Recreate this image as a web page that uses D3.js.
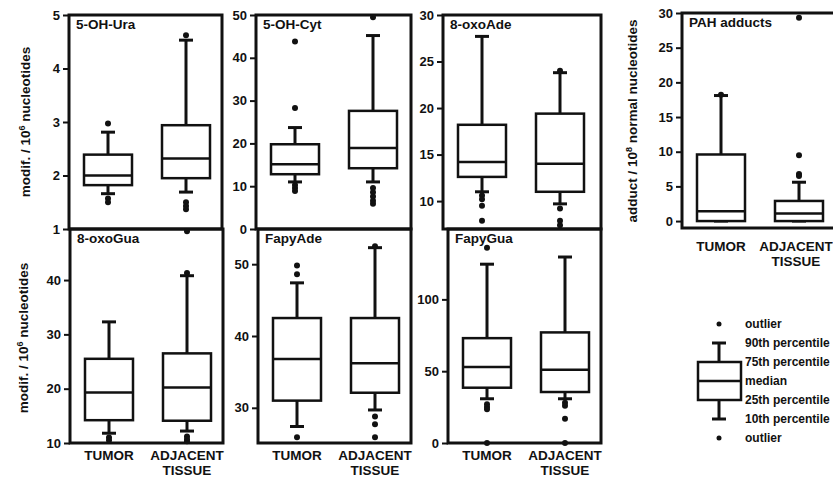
<!DOCTYPE html>
<html>
<head>
<meta charset="utf-8">
<script src="https://d3js.org/d3.v7.min.js"></script>
<style>
    body { margin: 0; background: #fff; }
    svg text { font-family: "Liberation Sans", Arial, sans-serif; font-weight: bold; fill: #111; }
    .frame { fill: none; stroke: #111; stroke-width: 3; }
    .axis text { font-size: 13px; }
    .axis line { stroke: #111; stroke-width: 2; }
    .whisker { stroke: #111; stroke-width: 3; }
    .qbox { fill: #fff; stroke: #111; stroke-width: 2.5; }
    .median { stroke: #111; stroke-width: 2.5; }
    .dot { fill: #111; }
    .title, .xlabel, .ylabel { font-size: 13.5px; }
    .legend text { font-size: 12px; }
</style>
</head>
<body>
<svg id="fig" width="833" height="481"></svg>
<script>
    // values
    const panelNames = ["5-OH-Ura", "5-OH-Cyt", "8-oxoAde", "8-oxoGua", "FapyAde", "FapyGua", "PAH adducts"];
    const groups = ["TUMOR", "ADJACENT TISSUE"];
    const groupLines = [["TUMOR"], ["ADJACENT", "TISSUE"]];
    // [10th, 25th, median, 75th, 90th]
    const tumorStats = [
        [1.66, 1.82, 2.0, 2.39, 2.81],
        [11.0, 12.8, 15.1, 19.8, 23.7],
        [11.0, 12.6, 14.2, 18.2, 27.7],
        [11.8, 14.2, 19.3, 25.5, 32.3],
        [27.4, 31.0, 36.8, 42.5, 47.4],
        [30.8, 38.5, 53.0, 73.0, 124.5],
        [0, 0, 1.4, 9.6, 18.1]
    ];
    const adjacentStats = [
        [1.69, 1.95, 2.32, 2.94, 4.53],
        [11.0, 14.2, 18.9, 27.6, 45.2],
        [9.7, 11.0, 14.0, 19.4, 23.8],
        [12.2, 14.1, 20.2, 26.5, 40.8],
        [29.7, 32.1, 36.2, 42.5, 52.3],
        [30.8, 35.5, 51.0, 77.0, 129.5],
        [0, 0, 1.1, 2.9, 5.6]
    ];
    const tumorOutliers = [
        [2.97, 1.57, 1.5],
        [43.8, 28.3, 10.3, 9.6, 8.9],
        [10.6, 10.2, 9.5, 7.9],
        [11.0, 10.5],
        [49.8, 48.6, 25.9],
        [136, 27, 25, 23.5, 0],
        [18.2]
    ];
    const adjacentOutliers = [
        [4.62, 1.5, 1.43, 1.37],
        [49.5, 9.6, 8.6, 7.6, 6.6, 5.9],
        [24.0, 9.2, 7.9, 7.4],
        [49.0, 41.3, 11.2, 10.7, 10.3],
        [52.5, 28.8, 27.7, 25.9],
        [28, 26, 16.8, 0],
        [29.3, 9.5, 6.8, 6.5]
    ];
    const yDomains = [[1, 5], [0, 50], [7, 30], [10, 49.4], [25.1, 54.9], [0, 149], [-1, 30]];
    const yTicks = [[1, 2, 3, 4, 5], [0, 10, 20, 30, 40, 50], [10, 15, 20, 25, 30], [10, 20, 30, 40], [30, 40, 50], [0, 50, 100], [0, 5, 10, 15, 20, 25, 30]];
    const legendLabels = ["outlier", "90th percentile", "75th percentile", "median", "25th percentile", "10th percentile", "outlier"];
</script>
<script>
    // layout of the panels
    const frames = [
        { x0: 69, x1: 222, y0: 15, y1: 229 },
        { x0: 256, x1: 411, y0: 15, y1: 229 },
        { x0: 443, x1: 601, y0: 15, y1: 229 },
        { x0: 70, x1: 223, y0: 229, y1: 443 },
        { x0: 258, x1: 411, y0: 229, y1: 443 },
        { x0: 448, x1: 601, y0: 229, y1: 443 },
        { x0: 682, x1: 842, y0: 13, y1: 228 }
    ];
    const xLabelOffset = [null, null, null, 17, 17, 17, 23];
    const boxW = 48, capW = 14;

    const svg = d3.select("#fig");

    frames.forEach((f, i) => {
        const y = d3.scaleLinear().domain(yDomains[i]).range([f.y1, f.y0]);
        const x = d3.scaleBand().domain(groups).range([f.x0, f.x0 + 156]);
        const g = svg.append("g");

        const ax = g.append("g").attr("class", "axis")
            .attr("transform", `translate(${f.x0},0)`)
            .call(d3.axisLeft(y).tickValues(yTicks[i]).tickSize(6).tickPadding(3).tickFormat(d3.format("d")));
        ax.select(".domain").remove();

        g.append("rect").attr("class", "frame")
            .attr("x", f.x0).attr("y", f.y0)
            .attr("width", f.x1 - f.x0).attr("height", f.y1 - f.y0);

        groups.forEach((grp, j) => {
            const s = j == 0 ? tumorStats[i] : adjacentStats[i];
            const outs = j == 0 ? tumorOutliers[i] : adjacentOutliers[i];
            const cx = x(grp) + x.bandwidth() / 2;
            const bg = g.append("g");
            bg.append("line").attr("class", "whisker")
                .attr("x1", cx).attr("x2", cx).attr("y1", y(s[4])).attr("y2", y(s[3]));
            bg.append("line").attr("class", "whisker")
                .attr("x1", cx).attr("x2", cx).attr("y1", y(s[1])).attr("y2", y(s[0]));
            [s[0], s[4]].forEach(v => {
                bg.append("line").attr("class", "whisker")
                    .attr("x1", cx - capW / 2).attr("x2", cx + capW / 2)
                    .attr("y1", y(v)).attr("y2", y(v));
            });
            bg.append("rect").attr("class", "qbox")
                .attr("x", cx - boxW / 2).attr("width", boxW)
                .attr("y", y(s[3])).attr("height", y(s[1]) - y(s[3]));
            bg.append("line").attr("class", "median")
                .attr("x1", cx - boxW / 2).attr("x2", cx + boxW / 2)
                .attr("y1", y(s[2])).attr("y2", y(s[2]));
            bg.selectAll("circle").data(outs).enter().append("circle")
                .attr("class", "dot").attr("cx", cx).attr("cy", d => y(d)).attr("r", 3);

            if (xLabelOffset[i] != null) {
                // keep the last label inside the picture's right edge
                const lx = Math.min(cx, 796);
                const t = g.append("text").attr("class", "xlabel")
                    .attr("text-anchor", "middle")
                    .attr("x", lx).attr("y", f.y1 + xLabelOffset[i]);
                groupLines[j].forEach((ln, k) => {
                    t.append("tspan").attr("x", lx).attr("dy", k == 0 ? 0 : 15).text(ln);
                });
            }
        });

        g.append("text").attr("class", "title")
            .attr("x", f.x0 + 7).attr("y", f.y0 + 14)
            .text(panelNames[i]);
    });

    function yLabel(cx, cy, pre, sup, post) {
        const t = svg.append("text").attr("class", "ylabel")
            .attr("text-anchor", "middle")
            .attr("transform", `translate(${cx},${cy}) rotate(-90)`);
        t.append("tspan").text(pre);
        t.append("tspan").attr("dy", -5).style("font-size", "9px").text(sup);
        t.append("tspan").attr("dy", 5).text(post);
    }
    yLabel(30, 122, "modif. / 10", "6", " nucleotides");
    yLabel(28, 338, "modif. / 10", "6", " nucleotides");
    yLabel(637, 121, "adduct / 10", "8", " normal nucleotides");

    // legend
    const ly = d3.scalePoint().domain(d3.range(legendLabels.length)).range([324, 438]);
    const lx = 719;
    const lg = svg.append("g").attr("class", "legend");
    lg.append("line").attr("class", "whisker").attr("x1", lx).attr("x2", lx).attr("y1", ly(1)).attr("y2", ly(5));
    [1, 5].forEach(k => lg.append("line").attr("class", "whisker")
        .attr("x1", lx - 7).attr("x2", lx + 7).attr("y1", ly(k)).attr("y2", ly(k)));
    lg.append("rect").attr("class", "qbox").attr("x", lx - 21).attr("width", 43)
        .attr("y", ly(2)).attr("height", ly(4) - ly(2));
    lg.append("line").attr("class", "median").attr("x1", lx - 21).attr("x2", lx + 22)
        .attr("y1", ly(3)).attr("y2", ly(3));
    [0, 6].forEach(k => lg.append("circle").attr("class", "dot").attr("cx", lx).attr("cy", ly(k)).attr("r", 2.5));
    lg.selectAll("text.lab").data(legendLabels).enter().append("text").attr("class", "lab")
        .attr("x", 745).attr("y", (d, k) => ly(k) + 4).text(d => d);
</script>
</body>
</html>
